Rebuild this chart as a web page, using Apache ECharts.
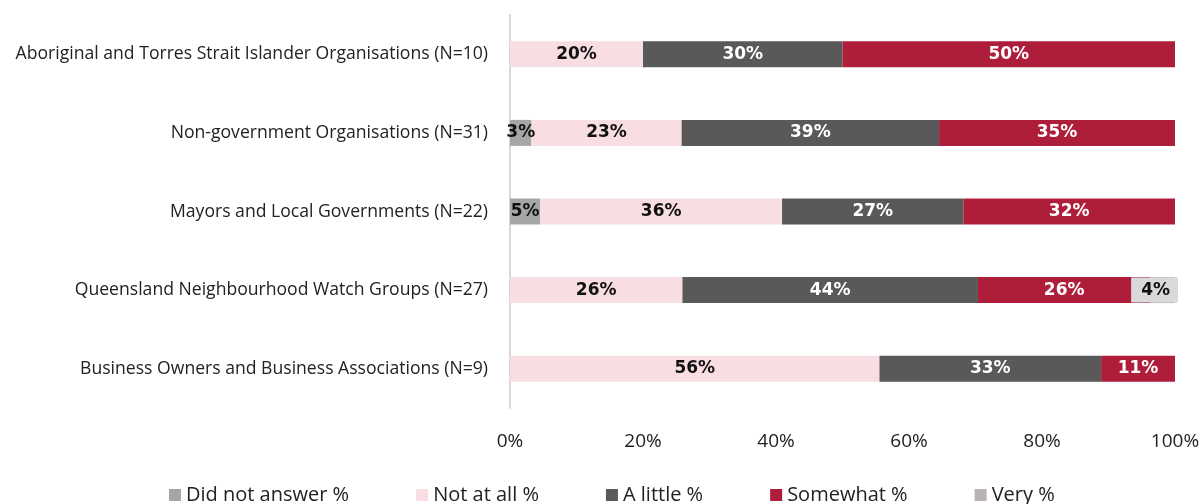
<!DOCTYPE html>
<html>
<head>
<meta charset="utf-8">
<script src="https://cdn.jsdelivr.net/npm/echarts@6/dist/echarts.min.js"></script>
<style>
  html, body { margin: 0; padding: 0; background: #fff; }
  #chart { width: 1204px; height: 504px; }
</style>
</head>
<body>
<div id="chart"></div>
<script>
// groups, top to bottom
const groups = [
  'Aboriginal and Torres Strait Islander Organisations (N=10)',
  'Non-government Organisations (N=31)',
  'Mayors and Local Governments (N=22)',
  'Queensland Neighbourhood Watch Groups (N=27)',
  'Business Owners and Business Associations (N=9)'
];
const didNotAnswer = [0, 3.23, 4.55, 0, 0];
const notAtAll = [20, 22.58, 36.36, 25.93, 55.56];
const aLittle = [30, 38.71, 27.27, 44.44, 33.33];
const somewhat = [50, 35.48, 31.82, 25.93, 11.11];
const very = [0, 0, 0, 3.70, 0];
const xTicks = [0, 20, 40, 60, 80, 100];

const fontFam = 'Open Sans, Noto Sans, sans-serif';

function seg(name, values, color, textColor, labelExtra) {
  // zero values get no label
  const data = values.map(function (v) {
    return v > 0 ? v : { value: 0, label: { show: false } };
  });
  return {
    name: name,
    type: 'bar',
    stack: 'all',
    barWidth: 26,
    data: data,
    itemStyle: { color: color },
    label: Object.assign({
      show: true,
      position: 'inside',
      color: textColor,
      fontWeight: 'bold',
      fontSize: 17,
      fontFamily: 'DejaVu Sans, sans-serif',
      formatter: function (p) { return Math.round(p.value) + '%'; }
    }, labelExtra || {})
  };
}

const chart = echarts.init(document.getElementById('chart'));
chart.setOption({
  animation: false,
  grid: { left: 510, right: 29, top: 15, bottom: 96 },
  legend: {
    bottom: -6,
    left: 164,
    itemWidth: 12,
    itemHeight: 12,
    itemGap: 67,
    icon: 'rect',
    textStyle: { fontSize: 20, color: '#222', fontFamily: fontFam }
  },
  xAxis: {
    type: 'value',
    min: 0,
    max: 100,
    interval: 20,
    axisLine: { show: false },
    axisTick: { show: false },
    splitLine: { show: false },
    axisLabel: {
      margin: 24,
      fontSize: 19,
      color: '#222',
      fontFamily: fontFam,
      formatter: function (v) { return xTicks.indexOf(v) >= 0 ? v + '%' : ''; }
    }
  },
  yAxis: {
    type: 'category',
    data: groups,
    inverse: true,
    axisLine: { show: true, lineStyle: { color: '#d9d9d9', width: 2 } },
    axisTick: { show: false },
    axisLabel: {
      margin: 22,
      fontSize: 17.6,
      color: '#222',
      fontFamily: fontFam
    }
  },
  series: [
    seg('Did not answer %', didNotAnswer, '#a6a6a6', '#111'),
    seg('Not at all %', notAtAll, '#f8dee3', '#111'),
    seg('A little %', aLittle, '#595959', '#fff'),
    seg('Somewhat %', somewhat, '#ae1e3b', '#fff'),
    // Very % label sits on a light grey box
    seg('Very %', very, '#b8b2b4', '#111', {
      position: 'insideRight',
      backgroundColor: '#d9d9d9',
      padding: [4, 8, 4, 10],
      offset: [8, 0]
    })
  ]
});
</script>
</body>
</html>
